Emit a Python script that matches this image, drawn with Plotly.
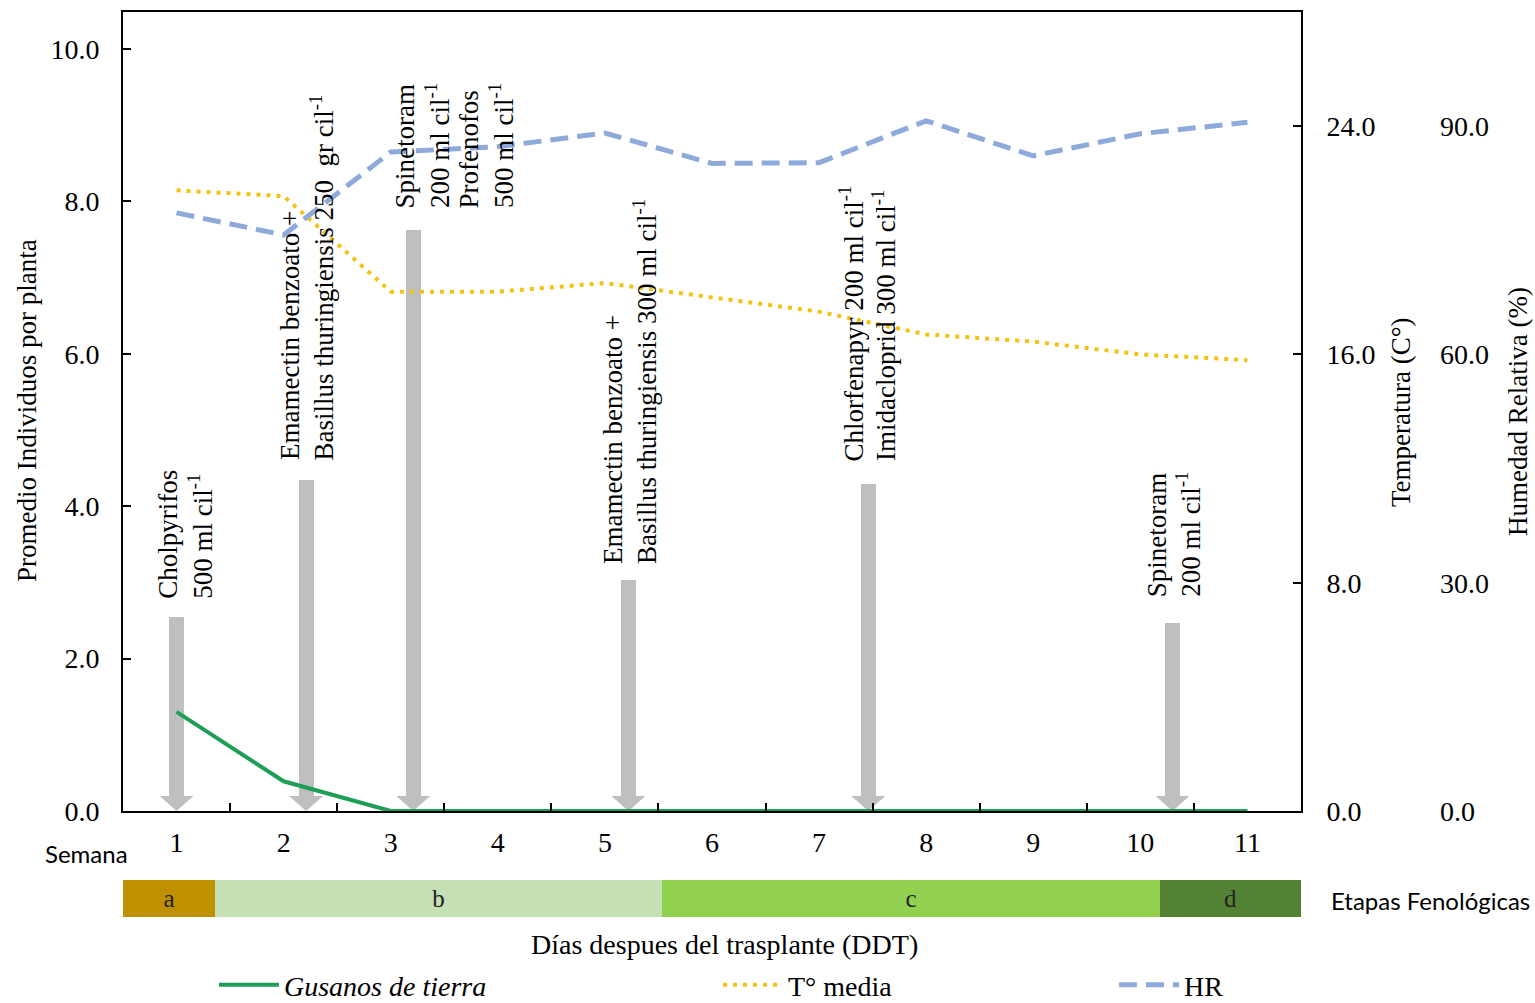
import plotly.graph_objects as go

# ---------------- data ----------------
weeks = [1, 2, 3, 4, 5, 6, 7, 8, 9, 10, 11]
gusanos = [1.30, 0.39, 0, 0, 0, 0, 0, 0, 0, 0, 0]
temp_media = [21.75, 21.55, 18.2, 18.2, 18.5, 18.0, 17.5, 16.7, 16.45, 16.0, 15.8]
hr = [78.6, 75.7, 86.6, 87.3, 89.1, 85.1, 85.2, 90.7, 86.1, 89.0, 90.5]

# applications (week position of arrow, arrow top on left axis)
app_week = [1.0, 2.21, 3.21, 5.22, 7.46, 10.3]
app_top = [2.55, 4.34, 7.62, 3.03, 4.29, 2.47]
app_lines = [
    ["Cholpyrifos", "500 ml cil<sup>-1</sup>"],
    ["Emamectin benzoato +", "Basillus thuringiensis 250  gr cil<sup>-1</sup>"],
    ["Spinetoram", "200 ml cil<sup>-1</sup>", "Profenofos", "500 ml cil<sup>-1</sup>"],
    ["Emamectin benzoato +", "Basillus thuringiensis 300 ml cil<sup>-1</sup>"],
    ["Chlorfenapyr 200 ml cil<sup>-1</sup>", "Imidacloprid 300 ml cil<sup>-1</sup>"],
    ["Spinetoram", "200 ml cil<sup>-1</sup>"],
]

# phenological stages
stage_labels = ["a", "b", "c", "d"]
stage_start = [0.5, 1.36, 5.53, 10.18]
stage_end = [1.36, 5.53, 10.18, 11.5]

# ---------------- style ----------------
SERIF = "Liberation Serif, Times New Roman, serif"
SANS = "Lato, Open Sans, sans-serif"
FS = 27
TFS = 28
GRAY = "#bfbfbf"
stage_colors = ["#bf9000", "#c5e0b4", "#92d050", "#548235"]
label_first_shift = [-8, -16, -8, -16, -17, -16]
label_yshift = [16, 18, 20, 14, 21, 24]
LINE_STEP = 32

W, H = 1535, 1003
ML, MR, MT, MB = 123, 0, 12, 86
PW = W - ML - MR
PH = H - MT - MB
x_right_px = 1301
XD = (x_right_px - ML) / PW
main_bottom_px = 811
pheno_top_px = 880
pheno_bottom_px = 917
main_dom = [(pheno_bottom_px - main_bottom_px) / PH, 1.0]
pheno_dom = [0.0, (pheno_bottom_px - pheno_top_px) / PH]

def px_x(px):
    return (px - ML) / PW

def px_y(py):
    return (pheno_bottom_px - py) / PH

# arrow head size in data units (derived from px via axis scales)
y_range = [0, 10.486]
x_range = [0.5, 11.5]
main_h_px = main_bottom_px - MT
head_h = 15 / main_h_px * (y_range[1] - y_range[0])
head_hw = 17 / (x_right_px - ML) * (x_range[1] - x_range[0])
shaft_w = 15 / (x_right_px - ML) * (x_range[1] - x_range[0])

fig = go.Figure()

# arrow shafts
fig.add_trace(go.Bar(
    x=app_week, y=[t - head_h for t in app_top], base=[head_h] * len(app_top),
    width=shaft_w, marker=dict(color=GRAY, line=dict(width=0)),
    showlegend=False, hoverinfo="skip", xaxis="x", yaxis="y",
))
# arrow heads
hx, hy = [], []
for xw in app_week:
    hx += [xw - head_hw, xw + head_hw, xw, xw - head_hw, None]
    hy += [head_h, head_h, 0, head_h, None]
fig.add_trace(go.Scatter(
    x=hx, y=hy, mode="lines", fill="toself", fillcolor=GRAY,
    line=dict(color=GRAY, width=0), showlegend=False, hoverinfo="skip",
    xaxis="x", yaxis="y",
))

# series
fig.add_trace(go.Scatter(
    x=weeks, y=gusanos, mode="lines", name="<i>Gusanos de tierra</i>",
    line=dict(color="#1f9e58", width=4), xaxis="x", yaxis="y", legend="legend",
))
fig.add_trace(go.Scatter(
    x=weeks, y=temp_media, mode="lines", name="T° media",
    line=dict(color="#f2c314", width=4, dash="4px,6px"), xaxis="x", yaxis="y2",
    legend="legend2",
))
fig.add_trace(go.Scatter(
    x=weeks, y=hr, mode="lines", name="HR",
    line=dict(color="#8eaadb", width=5, dash="18px,9px"), xaxis="x", yaxis="y3",
    legend="legend3",
))

# phenological stage bar
fig.add_trace(go.Bar(
    y=[0.5] * len(stage_labels), x=[e - s for s, e in zip(stage_start, stage_end)],
    base=stage_start, orientation="h", width=1,
    marker=dict(color=stage_colors, line=dict(width=0)),
    text=stage_labels, textposition="inside", insidetextanchor="middle",
    textangle=0, constraintext="none",
    textfont=dict(family=SERIF, size=25, color="#222222"),
    showlegend=False, hoverinfo="skip", xaxis="x2", yaxis="y4",
))

annotations = []
for xw, top, lines, xs0, ys in zip(app_week, app_top, app_lines, label_first_shift, label_yshift):
    for i, line in enumerate(lines):
        annotations.append(dict(
            x=xw, y=top, xref="x", yref="y", text=line, showarrow=False,
            textangle=-90, xanchor="center", yanchor="bottom",
            xshift=xs0 + i * LINE_STEP, yshift=ys,
            font=dict(family=SERIF, size=FS, color="black"),
        ))

def paper_note(px, py, text, font, angle=0, xanchor="center"):
    return dict(x=px_x(px), y=px_y(py), xref="paper", yref="paper", showarrow=False,
                text=text, textangle=angle, xanchor=xanchor, yanchor="middle", font=font)

serif_font = dict(family=SERIF, size=FS, color="black")
annotations += [
    paper_note(27, 411, "Promedio Individuos por planta", serif_font, -90),
    paper_note(1401, 412, "Temperatura (C°)", serif_font, -90),
    paper_note(1518, 412, "Humedad Relativa (%)", serif_font, -90),
    paper_note(86, 853, "Semana", dict(family=SANS, size=24, color="black")),
    paper_note(1329, 900, "Etapas Fenológicas", dict(family=SANS, size=24, color="black"),
               xanchor="left"),
    paper_note(724, 944, "Días despues del trasplante (DDT)",
               dict(family=SERIF, size=TFS, color="black")),
]

legend_common = dict(orientation="h", yanchor="middle", xanchor="left",
                     bgcolor="rgba(0,0,0,0)", font=dict(family=SERIF, size=TFS, color="black"),
                     itemwidth=60)

fig.update_layout(
    width=W, height=H,
    margin=dict(l=ML, r=MR, t=MT, b=MB, autoexpand=False),
    paper_bgcolor="white", plot_bgcolor="white",
    showlegend=True, bargap=0, barmode="overlay",
    xaxis=dict(
        domain=[0, XD], range=x_range, anchor="y",
        tickmode="array", tickvals=weeks, ticktext=[str(w) for w in weeks],
        ticks="", showline=True, linecolor="black", linewidth=2,
        mirror=True, showgrid=False, zeroline=False,
        tickfont=dict(family=SERIF, size=TFS, color="black"),
        ticklabelstandoff=5,
        minor=dict(tickvals=[w + 0.5 for w in weeks[:-1]], ticks="inside",
                   ticklen=8, tickwidth=1.5, tickcolor="black", showgrid=False),
        automargin=False,
    ),
    yaxis=dict(
        domain=main_dom, range=y_range, anchor="x",
        tickmode="array", tickvals=[0, 2, 4, 6, 8, 10],
        tickformat=".1f", ticks="inside", ticklen=8, tickwidth=1.5, tickcolor="black",
        showline=True, linecolor="black", linewidth=2, showgrid=False, zeroline=False,
        tickfont=dict(family=SERIF, size=TFS, color="black"),
        ticklabelstandoff=16, automargin=False,
    ),
    yaxis2=dict(
        overlaying="y", side="right", anchor="x", range=[0, 28],
        tickmode="array", tickvals=[0, 8, 16, 24], tickformat=".1f",
        ticks="inside", ticklen=8, tickwidth=1.5, tickcolor="black",
        showline=True, linecolor="black", linewidth=2, showgrid=False, zeroline=False,
        tickfont=dict(family=SERIF, size=TFS, color="black"),
        ticklabelstandoff=18, automargin=False,
    ),
    yaxis3=dict(
        overlaying="y", side="right", anchor="free", position=px_x(1439),
        range=[0, 105], tickmode="array", tickvals=[0, 30, 60, 90], tickformat=".1f",
        ticks="", showline=False, showgrid=False, zeroline=False,
        tickfont=dict(family=SERIF, size=TFS, color="black"),
        automargin=False,
    ),
    xaxis2=dict(domain=[0, XD], range=x_range, anchor="y4", visible=False),
    yaxis4=dict(domain=pheno_dom, range=[0, 1], anchor="x2", visible=False),
    legend=dict(x=px_x(214), y=px_y(985), **legend_common),
    legend2=dict(x=px_x(718), y=px_y(985), **legend_common),
    legend3=dict(x=px_x(1114), y=px_y(985), **legend_common),
    annotations=annotations,
)

fig.write_html("out.html", config={"displayModeBar": False},
               post_script="document.body.style.margin='0px';")
